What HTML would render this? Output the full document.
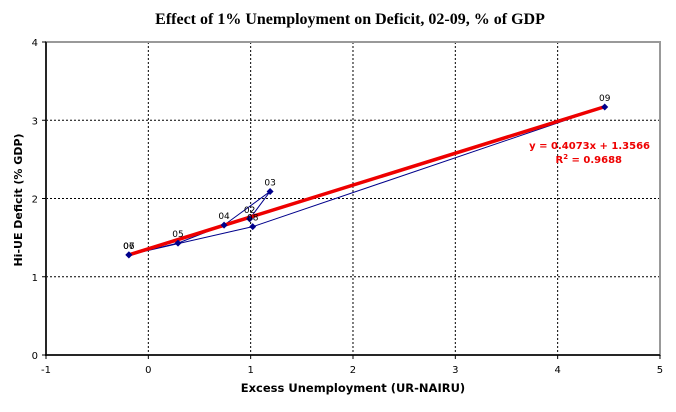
<!DOCTYPE html>
<html><head><meta charset="utf-8"><style>
body{margin:0;background:#fff}
svg text{font-family:"DejaVu Sans","Liberation Sans",sans-serif}
</style></head><body>
<svg width="676" height="407" xmlns="http://www.w3.org/2000/svg">
<rect x="0" y="0" width="676" height="407" fill="#fff"/>
<text x="350" y="24" text-anchor="middle" font-family="Liberation Serif,serif" style="font-family:'Liberation Serif',serif" font-weight="bold" font-size="16">Effect of 1% Unemployment on Deficit, 02-09, % of GDP</text>
<g id="grid"></g>
<rect x="46" y="42" width="614" height="313" fill="none" stroke="#999" stroke-width="2"/>
<line x1="46" y1="42" x2="46" y2="356" stroke="#000" stroke-width="1.5"/>
<line x1="45" y1="355" x2="660" y2="355" stroke="#000" stroke-width="1.5"/>
<g id="ticks"></g>
<g id="series"></g>
<text x="650" y="149" text-anchor="end" fill="#e00" font-weight="bold" font-size="10">y = 0.4073x + 1.3566</text>
<text x="622" y="163" text-anchor="end" fill="#e00" font-weight="bold" font-size="10">R<tspan dy="-4" font-size="7">2</tspan><tspan dy="4"> = 0.9688</tspan></text>
<text x="353" y="392" text-anchor="middle" font-weight="bold" font-size="11.5">Excess Unemployment (UR-NAIRU)</text>
<text transform="translate(22,200) rotate(-90)" text-anchor="middle" font-weight="bold" font-size="11">Hi-UE Deficit (% GDP)</text>
</svg>
<script>
const years=["02","03","04","05","06","07","08","09"];
const xVals=[0.99,1.19,0.74,0.29,-0.19,-0.19,1.02,4.46];
const yVals=[1.74,2.09,1.66,1.43,1.28,1.28,1.64,3.17];
const xTicks=[-1,0,1,2,3,4,5];
const yTicks=[0,1,2,3,4];
const slope=0.4073, intercept=1.3566;
const trendRange=[-0.2,4.47];
const NS="http://www.w3.org/2000/svg";
const X=v=>46+(v+1)*102.33, Y=v=>355-v*78.25;
function mk(t,a,p){const e=document.createElementNS(NS,t);for(const k in a)e.setAttribute(k,a[k]);p.appendChild(e);return e;}
const grid=document.getElementById('grid'),ticks=document.getElementById('ticks'),ser=document.getElementById('series');
xTicks.forEach(t=>{
 if(t>-1&&t<5){const l=mk('line',{x1:X(t),y1:42,x2:X(t),y2:355,stroke:'#000','stroke-dasharray':'2,2','stroke-width':1},grid);
 
 }
 mk('line',{x1:X(t),y1:355,x2:X(t),y2:359,stroke:'#000'},ticks);
 const tx=mk('text',{x:X(t),y:373,'text-anchor':'middle','font-size':10},ticks);tx.textContent=t;
 
 
});
yTicks.forEach(t=>{
 if(t>0&&t<4){const l=mk('line',{x1:46,y1:Y(t),x2:660,y2:Y(t),stroke:'#000','stroke-dasharray':'2,2','stroke-width':1},grid);
 
 }
 mk('line',{x1:42,y1:Y(t),x2:46,y2:Y(t),stroke:'#000'},ticks);
 const tx=mk('text',{x:38,y:Y(t)+4,'text-anchor':'end','font-size':10},ticks);tx.textContent=t;
 
 
});
const pl=mk('polyline',{points:xVals.map((x,i)=>X(x)+','+Y(yVals[i])).join(' '),fill:'none',stroke:'#00008b','stroke-width':1},ser);


const tl=mk('line',{x1:X(trendRange[0]),y1:Y(slope*trendRange[0]+intercept),x2:X(trendRange[1]),y2:Y(slope*trendRange[1]+intercept),stroke:'#e00','stroke-width':3.5},ser);


xVals.forEach((x,i)=>{
 const cx=X(x),cy=Y(yVals[i]);
 const m=mk('polygon',{points:`${cx},${cy-3.5} ${cx+3.5},${cy} ${cx},${cy+3.5} ${cx-3.5},${cy}`,fill:'#00008b'},ser);
 
 
 const t=mk('text',{x:cx,y:cy-6,'text-anchor':'middle','font-size':9},ser);t.textContent=years[i];
 
 
});
</script>
</body></html>
